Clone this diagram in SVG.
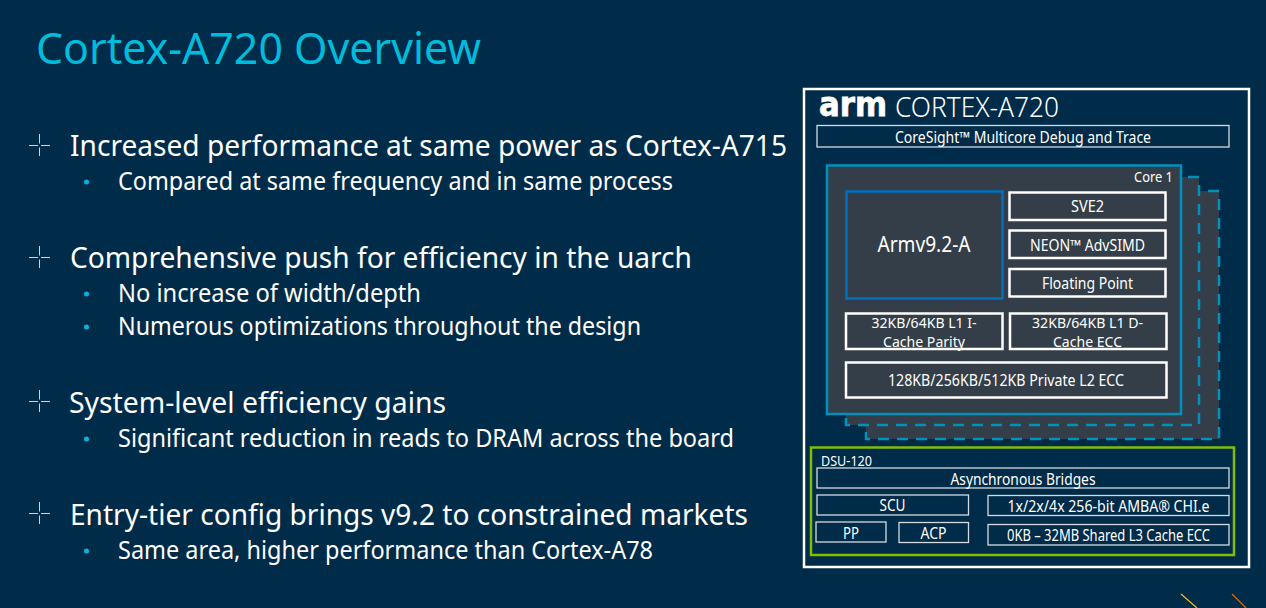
<svg xmlns="http://www.w3.org/2000/svg" width="1266" height="608" viewBox="0 0 1266 608">
<style>
text{font-family:"Noto Sans","Open Sans","Liberation Sans",sans-serif;fill:#fff}
.h{font-size:28.500px}
.s{font-size:24.500px}
.c{font-size:15.500px;text-anchor:middle}
.c2{font-size:14px;text-anchor:middle}
.wb{fill:#333e48;stroke:#fff;stroke-width:2.500}
.thin{fill:none;stroke:#d3dbe0;stroke-width:1.300}
.cr{stroke:#fff;stroke-width:.8;fill:none}
.dot{fill:#00b6dc}
.dash{fill:#333e48;stroke:#0091bd;stroke-width:2.500;stroke-dasharray:11 8}
</style>
<rect width="1266" height="608" fill="#002b49"/>
<text id="title" x="36" y="64" font-size="43" style="fill:#00bcdc" textLength="445" lengthAdjust="spacingAndGlyphs">Cortex-A720 Overview</text>
<g id="bullets">
<path class="cr" d="M29 145.500H38M41 145.500H50M39.500 134V143.500M39.500 147.500V156M29 257.500H38M41 257.500H50M39.500 246V255.500M39.500 259.500V268M29 401.500H38M41 401.500H50M39.500 390V399.500M39.500 403.500V412M29 513.500H38M41 513.500H50M39.500 502V511.500M39.500 515.500V524"/>
<text class="h" x="70" y="156" textLength="717" lengthAdjust="spacingAndGlyphs">Increased performance at same power as Cortex-A715</text>
<circle class="dot" cx="86.500" cy="182" r="2.500"/>
<text class="s" x="118" y="190" textLength="555" lengthAdjust="spacingAndGlyphs">Compared at same frequency and in same process</text>
<text class="h" x="70" y="268" textLength="622" lengthAdjust="spacingAndGlyphs">Comprehensive push for efficiency in the uarch</text>
<circle class="dot" cx="86.500" cy="294" r="2.500"/>
<text class="s" x="118" y="302" textLength="303" lengthAdjust="spacingAndGlyphs">No increase of width/depth</text>
<circle class="dot" cx="86.500" cy="327" r="2.500"/>
<text class="s" x="118" y="335" textLength="523" lengthAdjust="spacingAndGlyphs">Numerous optimizations throughout the design</text>
<text class="h" x="69" y="413" textLength="377" lengthAdjust="spacingAndGlyphs">System-level efficiency gains</text>
<circle class="dot" cx="86.500" cy="439" r="2.500"/>
<text class="s" x="118" y="447" textLength="616" lengthAdjust="spacingAndGlyphs">Significant reduction in reads to DRAM across the board</text>
<text class="h" x="70" y="525" textLength="678" lengthAdjust="spacingAndGlyphs">Entry-tier config brings v9.2 to constrained markets</text>
<circle class="dot" cx="86.500" cy="551" r="2.500"/>
<text class="s" x="118" y="559" textLength="535" lengthAdjust="spacingAndGlyphs">Same area, higher performance than Cortex-A78</text>
</g>
<g id="chip">
<rect x="804" y="89" width="445" height="478" fill="none" stroke="#fff" stroke-width="2.500"/>
<text x="819" y="116" font-size="34" font-weight="700" textLength="68" lengthAdjust="spacingAndGlyphs" style="font-family:'DejaVu Sans',sans-serif;stroke:#fff;stroke-width:.8">arm</text>
<text x="895" y="116.500" font-size="27" font-weight="300" textLength="164" lengthAdjust="spacingAndGlyphs">CORTEX-A720</text>
</g>
<g id="coresight"><rect class="thin" x="817" y="125.500" width="412" height="21.500"/><text class="c" x="1023" y="142.500" textLength="256" lengthAdjust="spacingAndGlyphs">CoreSight™ Multicore Debug and Trace</text></g>
<g id="core3"><rect class="dash" x="866" y="191" width="353" height="248"/></g>
<g id="core2"><rect class="dash" x="846" y="177" width="353" height="248"/></g>
<g id="core1"><rect x="827" y="165.500" width="354" height="248.500" fill="#333e48" stroke="#0091bd" stroke-width="2.500"/><text x="1134" y="182" font-size="14" textLength="39" lengthAdjust="spacingAndGlyphs">Core 1</text></g>
<g id="armv"><rect x="846.500" y="191.500" width="156" height="107" fill="#333e48" stroke="#0070c0" stroke-width="2.500"/><text x="924" y="252" font-size="21" text-anchor="middle" textLength="93" lengthAdjust="spacingAndGlyphs">Armv9.2-A</text></g>
<g id="sve2"><rect class="wb" x="1009.500" y="192.500" width="156" height="27.500"/><text class="c" x="1087.500" y="212" textLength="33" lengthAdjust="spacingAndGlyphs">SVE2</text></g>
<g id="neon"><rect class="wb" x="1009.500" y="230.500" width="156" height="27.500"/><text class="c" x="1087.500" y="250.500" textLength="115" lengthAdjust="spacingAndGlyphs">NEON™ AdvSIMD</text></g>
<g id="fp"><rect class="wb" x="1009.500" y="269" width="156" height="27.500"/><text class="c" x="1087.500" y="289" textLength="91" lengthAdjust="spacingAndGlyphs">Floating Point</text></g>
<g id="l1i"><rect class="wb" x="846" y="313.500" width="156.500" height="35.500"/><text class="c2" x="924" y="328" textLength="105" lengthAdjust="spacingAndGlyphs">32KB/64KB L1 I-</text><text class="c2" x="924" y="347" textLength="82" lengthAdjust="spacingAndGlyphs">Cache Parity</text></g>
<g id="l1d"><rect class="wb" x="1010" y="313.500" width="156.500" height="35.500"/><text class="c2" x="1087.500" y="328" textLength="111" lengthAdjust="spacingAndGlyphs">32KB/64KB L1 D-</text><text class="c2" x="1087.500" y="347" textLength="69" lengthAdjust="spacingAndGlyphs">Cache ECC</text></g>
<g id="l2"><rect class="wb" x="846" y="362.500" width="320.500" height="35"/><text class="c" x="1006" y="386" textLength="236" lengthAdjust="spacingAndGlyphs">128KB/256KB/512KB Private L2 ECC</text></g>
<g id="dsu"><rect x="811" y="447.500" width="423" height="107.500" fill="none" stroke="#84bd00" stroke-width="2.500"/><text x="821" y="466" font-size="14" textLength="51" lengthAdjust="spacingAndGlyphs">DSU-120</text></g>
<g id="async"><rect class="thin" x="817" y="468" width="412" height="20"/><text class="c" x="1023" y="484.500" textLength="145" lengthAdjust="spacingAndGlyphs">Asynchronous Bridges</text></g>
<g id="scu"><rect class="thin" x="817" y="495" width="151.500" height="20"/><text class="c" x="892.500" y="511" textLength="26" lengthAdjust="spacingAndGlyphs">SCU</text></g>
<g id="amba"><rect class="thin" x="988" y="495.500" width="241" height="20"/><text class="c" x="1108.500" y="512" textLength="202" lengthAdjust="spacingAndGlyphs">1x/2x/4x 256-bit AMBA® CHI.e</text></g>
<g id="pp"><rect class="thin" x="816" y="522" width="70" height="20"/><text class="c" x="851" y="539" textLength="16" lengthAdjust="spacingAndGlyphs">PP</text></g>
<g id="acp"><rect class="thin" x="899" y="522.500" width="69.500" height="20"/><text class="c" x="933.500" y="539" textLength="26" lengthAdjust="spacingAndGlyphs">ACP</text></g>
<g id="l3"><rect class="thin" x="988" y="524.500" width="241" height="20.500"/><text class="c" x="1108.500" y="541" textLength="203" lengthAdjust="spacingAndGlyphs">0KB – 32MB Shared L3 Cache ECC</text></g>
<g id="connectors" fill="none" stroke-width="1.200"><path d="M1181 594L1197 608" stroke="#f0c020"/><path d="M1232 594L1246 608" stroke="#e06a10"/></g>
</svg>
